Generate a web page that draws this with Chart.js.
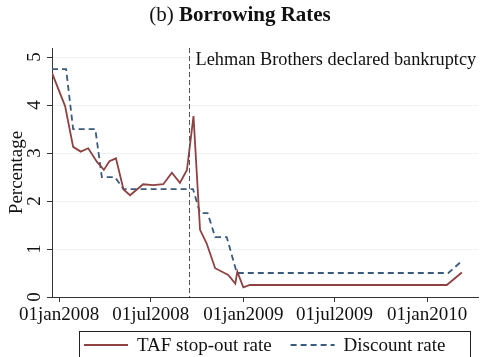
<!DOCTYPE html>
<html>
<head>
<meta charset="utf-8">
<script src="https://cdn.jsdelivr.net/npm/chart.js@4.4.1/dist/chart.umd.min.js"></script>
<style>
  html, body { margin: 0; padding: 0; background: #fff; }
  #wrap { width: 485px; height: 357px; position: relative; }
</style>
</head>
<body>
<div id="wrap"><canvas id="ratesChart"></canvas></div>
<script>
// TAF stop-out rate
const tafDates = ["2007-12-18", "2008-01-13", "2008-01-29", "2008-02-13", "2008-02-28", "2008-03-16",
    "2008-03-30", "2008-04-10", "2008-04-23", "2008-05-08", "2008-05-21", "2008-06-16", "2008-07-06",
    "2008-07-26", "2008-08-12", "2008-08-28", "2008-09-11", "2008-09-24", "2008-10-07", "2008-10-20",
    "2008-11-06", "2008-12-02", "2008-12-16", "2008-12-20", "2009-01-01", "2009-01-14", "2010-02-09",
    "2010-03-11"];
const tafRates = [4.67, 3.98, 3.13, 3.03, 3.10, 2.82, 2.65, 2.83, 2.89, 2.24, 2.12, 2.35, 2.33,
    2.35, 2.59, 2.38, 2.65, 3.77, 1.40, 1.12, 0.60, 0.46, 0.28, 0.53, 0.20, 0.25, 0.25, 0.51];

// Discount rate
const discountDates = ["2007-12-18", "2008-01-15", "2008-01-29", "2008-03-13", "2008-03-26", "2008-04-21",
    "2008-05-08", "2008-09-23", "2008-10-07", "2008-10-22", "2008-11-06", "2008-11-29", "2008-12-19",
    "2010-02-12", "2010-03-11"];
const discountRates = [4.75, 4.75, 3.5, 3.5, 2.5, 2.5, 2.25, 2.25, 1.75, 1.75, 1.25, 1.25, 0.5, 0.5, 0.75];

const xTickDates = ["2008-01-01", "2008-07-01", "2009-01-01", "2009-07-01", "2010-01-01"];
const yTicks = [0, 1, 2, 3, 4, 5];
const lehmanDate = "2008-09-15";
const lehmanLabel = "Lehman Brothers declared bankruptcy";
const seriesNames = ["TAF stop-out rate", "Discount rate"];

const months = ["jan", "feb", "mar", "apr", "may", "jun", "jul", "aug", "sep", "oct", "nov", "dec"];
const serif = '"Liberation Serif", "DejaVu Serif", serif';

function toTime(s) {
    const p = s.split("-");
    return Date.UTC(+p[0], +p[1] - 1, +p[2]);
}

function stataDate(v) {
    const d = new Date(v);
    return String(d.getUTCDate()).padStart(2, "0") + months[d.getUTCMonth()] + d.getUTCFullYear();
}

function points(dates, values) {
    return dates.map((d, i) => ({ x: toTime(d), y: values[i] }));
}

// title, Lehman marker and boxed legend
const extras = {
    id: "extras",
    afterDraw(chart) {
        const ctx = chart.ctx;
        const area = chart.chartArea;
        const xs = chart.scales.x;
        ctx.save();

        // title: "(b) " regular + "Borrowing Rates" bold
        ctx.fillStyle = "#111";
        ctx.textBaseline = "alphabetic";
        ctx.font = "21px " + serif;
        const t1 = "(b) ";
        const w1 = ctx.measureText(t1).width;
        ctx.font = "bold 21px " + serif;
        const t2 = "Borrowing Rates";
        const w2 = ctx.measureText(t2).width;
        const tx = 240 - (w1 + w2) / 2;
        ctx.font = "21px " + serif;
        ctx.fillText(t1, tx, 21);
        ctx.font = "bold 21px " + serif;
        ctx.fillText(t2, tx + w1, 21);

        // Lehman line
        const lx = Math.round(xs.getPixelForValue(toTime(lehmanDate))) + 0.5;
        ctx.strokeStyle = "#555";
        ctx.lineWidth = 1;
        ctx.setLineDash([5, 3]);
        ctx.beginPath();
        ctx.moveTo(lx, area.top);
        ctx.lineTo(lx, area.bottom);
        ctx.stroke();
        ctx.setLineDash([]);
        ctx.font = "18.3px " + serif;
        ctx.fillStyle = "#111";
        ctx.fillText(lehmanLabel, lx + 6, 65);

        // legend
        ctx.font = "19px " + serif;
        const ds = chart.data.datasets;
        const ly = 345;
        let x = 84;
        ctx.textBaseline = "middle";
        const boxLeft = x - 5;
        ds.forEach((d, i) => {
            ctx.strokeStyle = d.borderColor;
            ctx.lineWidth = d.borderWidth;
            ctx.setLineDash(d.borderDash || []);
            ctx.beginPath();
            ctx.moveTo(x, ly);
            ctx.lineTo(x + 44, ly);
            ctx.stroke();
            ctx.setLineDash([]);
            x += 53;
            ctx.fillStyle = "#111";
            ctx.fillText(d.label, x, ly + 1);
            x += ctx.measureText(d.label).width + 19;
        });
        ctx.strokeStyle = "#222";
        ctx.lineWidth = 1;
        ctx.strokeRect(boxLeft + 0.5, 331.5, 470 - boxLeft, 40);
        ctx.restore();
    }
};

const ctx = document.getElementById("ratesChart").getContext("2d");

new Chart(ctx, {
    type: "line",
    data: {
        datasets: [
            {
                label: seriesNames[0],
                data: points(tafDates, tafRates),
                borderColor: "#8e4242",
                borderWidth: 1.8,
                pointRadius: 0,
                tension: 0,
            },
            {
                label: seriesNames[1],
                data: points(discountDates, discountRates),
                borderColor: "#3a5a7e",
                borderWidth: 1.8,
                borderDash: [6, 4],
                pointRadius: 0,
                tension: 0,
            },
        ],
    },
    options: {
        responsive: true,
        maintainAspectRatio: false,
        animation: false,
        layout: { padding: { top: 48, right: 7, bottom: 26, left: 0 } },
        plugins: {
            legend: { display: false },
            tooltip: { enabled: false },
        },
        scales: {
            x: {
                type: "linear",
                min: toTime("2007-12-18"),
                max: toTime("2010-04-12"),
                afterBuildTicks(scale) {
                    scale.ticks = xTickDates.map((d) => ({ value: toTime(d) }));
                },
                afterFit(scale) {
                    scale.height = 34;
                },
                ticks: {
                    callback: (v) => stataDate(v),
                    color: "#111",
                    font: { family: serif, size: 19 },
                    padding: 2,
                    maxRotation: 0,
                    autoSkip: false,
                },
                grid: { drawOnChartArea: false, tickLength: 5, tickColor: "#333" },
                border: { color: "#333", width: 1 },
            },
            y: {
                min: 0,
                max: 5.19,
                afterBuildTicks(scale) {
                    scale.ticks = yTicks.map((v) => ({ value: v }));
                },
                afterFit(scale) {
                    scale.width = 52;
                },
                ticks: {
                    color: "#111",
                    font: { family: serif, size: 19 },
                    minRotation: 90,
                    maxRotation: 90,
                    crossAlign: "center",
                    padding: 7,
                },
                grid: { color: "#edf2f2", tickLength: 5, tickColor: "#333" },
                border: { color: "#333", width: 1 },
                title: {
                    display: true,
                    text: "Percentage",
                    color: "#111",
                    font: { family: serif, size: 19 },
                    padding: { top: 6, bottom: 0 },
                },
            },
        },
    },
    plugins: [extras],
});
</script>
</body>
</html>
